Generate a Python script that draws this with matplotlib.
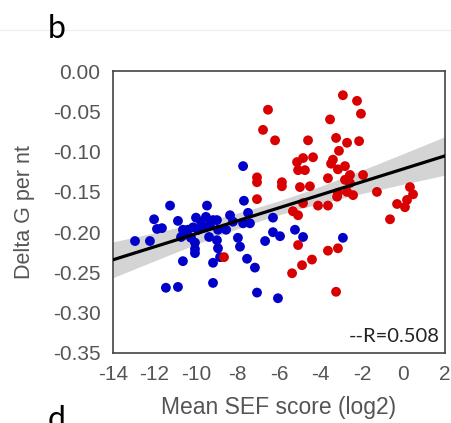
import numpy as np
import matplotlib
matplotlib.use("Agg")
import matplotlib.pyplot as plt

plt.rcParams["font.family"] = ["Liberation Sans", "DejaVu Sans"]
plt.rcParams["axes.unicode_minus"] = False

# Mean SEF score (log2) and folding energy per nucleotide
red_x = [-2.92, -2.24, -2.05, -6.53, -3.54, -6.77, -6.19, -4.60, -3.25, -2.72,
         -2.14, -3.11, -4.36, -4.84, -5.13, -5.08, -4.75, -3.40, -3.49, -2.82,
         -3.16, -2.58, -1.95, -3.64, -5.86, -5.86, -7.06, -7.06, -4.99, -4.51,
         -2.82, -2.58, -1.28, 0.31, 0.46, 0.17, -0.31, 0.07, -3.16, -3.20,
         -2.72, -2.43, -4.12, -3.64, -4.84, -5.33, -5.08, -7.06, -0.65, -3.64,
         -3.16, -4.41, -4.89, -5.08, -5.37, -3.25, -8.65]
red_y = [-0.030, -0.037, -0.053, -0.048, -0.060, -0.073, -0.086, -0.086, -0.083, -0.089,
         -0.087, -0.099, -0.107, -0.108, -0.113, -0.123, -0.123, -0.110, -0.115, -0.118,
         -0.122, -0.129, -0.129, -0.133, -0.138, -0.143, -0.132, -0.138, -0.144, -0.143,
         -0.135, -0.139, -0.150, -0.144, -0.153, -0.160, -0.165, -0.169, -0.151, -0.156,
         -0.150, -0.154, -0.167, -0.167, -0.164, -0.174, -0.179, -0.159, -0.184, -0.223,
         -0.220, -0.234, -0.241, -0.216, -0.251, -0.274, -0.231]

blue_x = [-11.25, -9.47, -12.02, -10.87, -11.88, -11.64, -12.94, -12.22, -9.76, -9.52,
          -9.18, -10.14, -9.90, -10.39, -10.53, -10.24, -9.66, -9.33, -10.72, -10.00,
          -10.63, -10.05, -10.05, -10.05, -10.63, -9.18, -11.45, -10.87, -9.18, -9.37,
          -7.73, -7.69, -7.49, -8.36, -7.73, -7.40, -6.29, -6.29, -5.95, -6.67,
          -5.23, -4.84, -7.98, -7.88, -7.54, -7.16, -7.06, -6.05, -8.99, -8.94,
          -8.99, -8.94, -8.84, -2.92, -8.55, -8.22]
blue_y = [-0.167, -0.167, -0.184, -0.186, -0.196, -0.195, -0.211, -0.211, -0.187, -0.181,
          -0.185, -0.194, -0.197, -0.197, -0.203, -0.207, -0.194, -0.191, -0.206, -0.182,
          -0.197, -0.213, -0.221, -0.226, -0.236, -0.238, -0.269, -0.268, -0.263, -0.206,
          -0.118, -0.161, -0.176, -0.179, -0.189, -0.189, -0.182, -0.200, -0.205, -0.211,
          -0.197, -0.206, -0.207, -0.218, -0.233, -0.244, -0.275, -0.282, -0.185, -0.197,
          -0.210, -0.220, -0.231, -0.207, -0.197, -0.187]

x_ticks = [-14, -12, -10, -8, -6, -4, -2, 0, 2]
y_ticks = [0.00, -0.05, -0.10, -0.15, -0.20, -0.25, -0.30, -0.35]
r_label = "--R=0.508"

fig = plt.figure(figsize=(4.52, 4.23), dpi=100)
ax = fig.add_axes([0.25, 0.1655, 0.7345, 0.6665])

ax.scatter(blue_x, blue_y, s=50, color="#0000c8", edgecolors="none", zorder=3)
ax.scatter(red_x, red_y, s=50, color="#d80000", edgecolors="none", zorder=3)

# Linear fit over all points with a 95% confidence band
all_x = np.array(blue_x + red_x)
all_y = np.array(blue_y + red_y)
n = len(all_x)
slope, intercept = np.polyfit(all_x, all_y, 1)
resid = all_y - (slope * all_x + intercept)
s_err = np.sqrt(np.sum(resid ** 2) / (n - 2))
x_mean = all_x.mean()
sxx = np.sum((all_x - x_mean) ** 2)
grid = np.linspace(-14, 2, 200)
fit = slope * grid + intercept
half = 1.98 * s_err * np.sqrt(1.0 / n + (grid - x_mean) ** 2 / sxx)
ax.fill_between(grid, fit - half, fit + half, color="#d4d4d4",
                linewidth=0, zorder=2)
ax.plot(grid, fit, color="black", linewidth=2.3, zorder=5)

ax.set_xlim(-14, 2)
ax.set_ylim(-0.35, 0.0)
ax.set_xticks(x_ticks)
ax.set_xticklabels([str(v) for v in x_ticks])
ax.set_yticks(y_ticks)
ax.set_yticklabels([f"{v:.2f}" for v in y_ticks])
ax.tick_params(length=0, labelsize=15, labelcolor="#555555")
ax.tick_params(axis="y", pad=9)
ax.tick_params(axis="x", pad=9)
for sp in ax.spines.values():
    sp.set_color("#444444")
    sp.set_linewidth(1.2)

ax.set_xlabel("Mean SEF score (log2)", fontsize=16.5, color="#555555")
ax.set_ylabel("Delta G per nt", fontsize=15.5, color="#555555")
ax.xaxis.set_label_coords(0.5, -0.152)
ax.yaxis.set_label_coords(-0.236, 0.5)

ax.text(0.985, 0.03, r_label, transform=ax.transAxes, ha="right", va="bottom",
        fontsize=14.5, color="#222222", family=["Lato", "DejaVu Sans"], zorder=6)

fig.text(48 / 452, 1 - 38 / 423, "b", fontsize=23, color="black",
         family=["Lato", "DejaVu Sans"], ha="left", va="baseline")
fig.text(48 / 452, -6 / 423, "d", fontsize=23, color="black",
         family=["Lato", "DejaVu Sans"], ha="left", va="baseline")
fig.add_artist(plt.Line2D([0.0, 1.0], [1 - 30 / 423, 1 - 30 / 423],
                          color="#f0f0f0", linewidth=1.0))

fig.savefig("out.png", dpi=100, facecolor="white")
